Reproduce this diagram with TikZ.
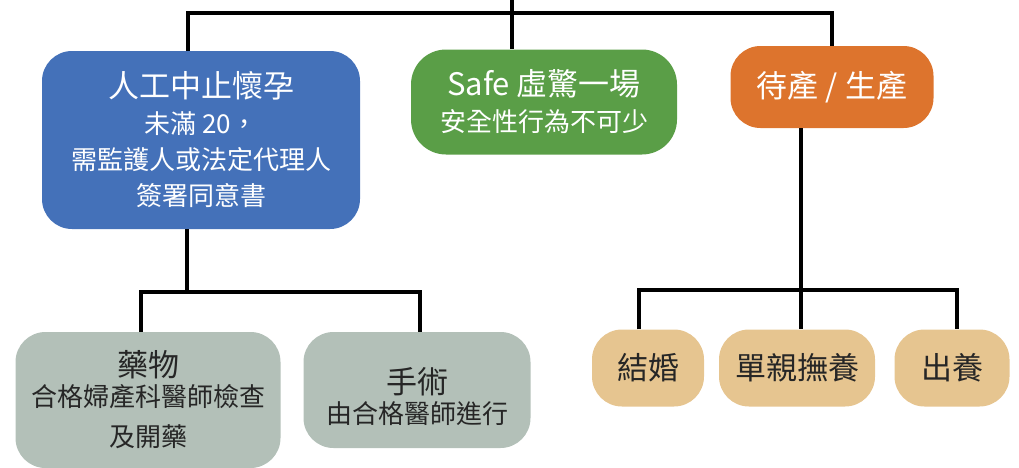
\documentclass[tikz,border=0pt]{standalone}
\usepackage{fontspec}
\newfontfamily\cjk{Noto Sans CJK TC}
\definecolor{boxblue}{HTML}{4471B9}
\definecolor{boxgreen}{HTML}{5A9E47}
\definecolor{boxorange}{HTML}{DD742D}
\definecolor{boxgray}{HTML}{B3C0B8}
\definecolor{boxtan}{HTML}{E6C590}
\definecolor{darktext}{HTML}{262626}

\begin{document}
\begin{tikzpicture}[x=1pt,y=-1pt,
    box/.style={rounded corners=30pt,inner sep=0pt,align=center,
      font=\cjk\fontsize{26}{36}\selectfont},
    bluebox/.style={box,fill=boxblue,text=white},
    greenbox/.style={box,fill=boxgreen,text=white},
    orangebox/.style={box,fill=boxorange,text=white},
    graybox/.style={box,fill=boxgray,text=darktext},
    tanbox/.style={box,fill=boxtan,text=darktext,
      font=\cjk\fontsize{31}{36}\selectfont},
    link/.style={line width=4.5pt}]

    \useasboundingbox (0,0) rectangle (1019,467);

    % Top row
    \node[bluebox,minimum width=318pt,minimum height=178pt] (abort) at (201,140)
      {{\fontsize{31}{36}\selectfont 人工中止懷孕}\\未滿 20，\\需監護人或法定代理人\\簽署同意書};
    \node[greenbox,minimum width=266pt,minimum height=105pt,rounded corners=35pt] (safe) at (544,102)
      {{\fontsize{31}{36}\selectfont Safe 虛驚一場}\\安全性行為不可少};
    \node[orangebox,minimum width=203pt,minimum height=82pt] (birth) at (832,87)
      {\fontsize{31}{36}\selectfont 待產 / 生產};

    % Bottom row
    \node[graybox,minimum width=265pt,minimum height=136pt] (drug) at (148,400)
      {{\fontsize{31}{36}\selectfont 藥物}\\[-6pt]合格婦產科醫師檢查\\[4pt]及開藥};
    \node[graybox,minimum width=227pt,minimum height=116pt] (surgery) at (417,390) {};
    \node[box,text=darktext] (surgerytext) at (417,397)
      {{\fontsize{31}{36}\selectfont 手術}\\[-6pt]由合格醫師進行};
    \node[tanbox,minimum width=112pt,minimum height=77pt] (marry) at (648,368) {結婚};
    \node[tanbox,minimum width=156pt,minimum height=77pt] (single) at (797,368) {單親撫養};
    \node[tanbox,minimum width=115pt,minimum height=77pt] (adopt) at (952,368) {出養};

    % Tree links
    \coordinate (root) at (512,0);
    \coordinate (hub) at (512,13);
    \coordinate (split1) at (187,292);
    \coordinate (split2) at (801,290);

    \draw[link] (root) -- ([xshift=-32pt]safe.north);
    \draw[link] ([xshift=-13pt]abort.north) |- (hub) -| (birth.north);
    \draw[link] ([xshift=-14pt]abort.south) -- (split1);
    \draw[link] ([xshift=-7pt]drug.north) |- (split1) -| ([xshift=3pt]surgery.north);
    \draw[link] ([xshift=-31pt]birth.south) -- ([xshift=4pt]single.north);
    \draw[link] ([xshift=-9pt]marry.north) |- (split2) -| ([xshift=5pt]adopt.north);

  \end{tikzpicture}
\end{document}
